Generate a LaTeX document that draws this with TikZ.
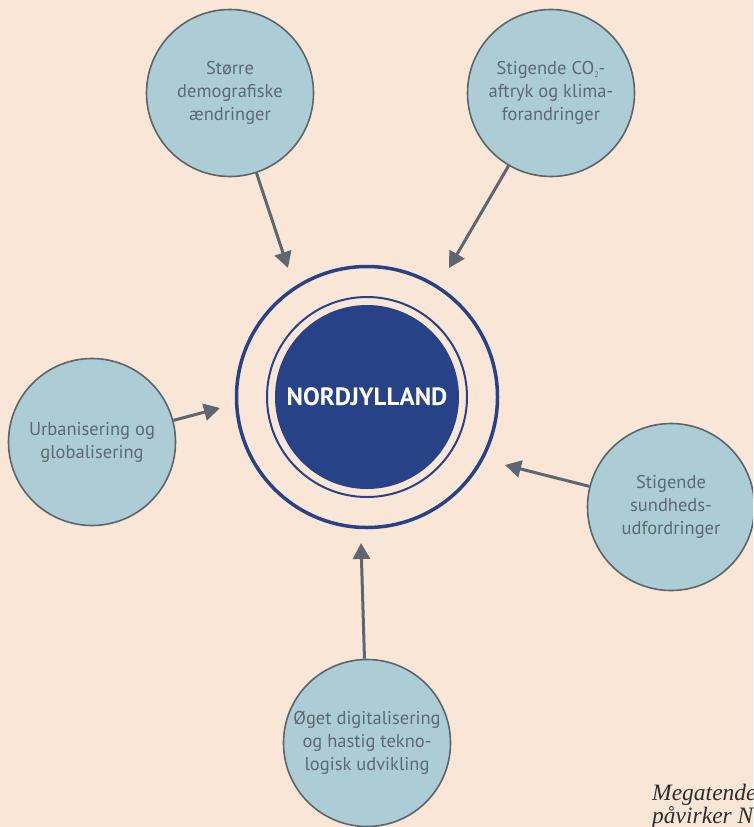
\documentclass[tikz,border=0pt]{standalone}
\usepackage{fontspec}
\setmainfont{PT Sans}
\newfontfamily\capfont{Liberation Serif}
\usetikzlibrary{arrows.meta}

\definecolor{paper}{HTML}{FAE6D6}
\definecolor{trendfill}{HTML}{ACCDD5}
\definecolor{trendline}{HTML}{5C646C}
\definecolor{trendtext}{HTML}{5F6871}
\definecolor{connc}{HTML}{5E666F}
\definecolor{navy}{HTML}{274287}
\definecolor{captext}{HTML}{2E2E2E}

\newcommand{\smallsub}[1]{\raisebox{-2.5pt}{\fontsize{8}{8}\selectfont #1}}

\tikzset{
  trend/.style={circle, draw=trendline, line width=1.6pt, fill=trendfill,
    minimum size=167pt, inner sep=0pt, align=center, text=trendtext,
    font=\fontsize{18.5}{23}\selectfont},
  conn/.style={draw=connc, line width=3pt,
    -{Triangle[length=16pt,width=17pt]}},
  ringline/.style={circle, draw=navy, fill=none, inner sep=0pt},
  captiontext/.style={anchor=base west, inner sep=0pt, text=captext,
    font=\capfont\itshape\fontsize{23.5}{23}\selectfont}
}

\begin{document}
\begin{tikzpicture}[x=1pt, y=-1pt]
  \useasboundingbox (0,0) rectangle (753,827);
  \clip (0,0) rectangle (753,827);
  \fill[paper] (0,0) rectangle (753,827);

  % central region with its two rings
  \node[circle, fill=navy, minimum size=184pt, inner sep=0pt, text=white,
        font=\bfseries\fontsize{25}{28}\selectfont] (hub) at (367,397) {NORDJYLLAND};
  \node[ringline, line width=2pt, minimum size=200pt] (hubin) at (367,397) {};
  \node[ringline, line width=3.5pt, minimum size=261pt] (hubout) at (367,397) {};

  % trends around it
  \node[trend] (demo)  at (230,93)  {Større\\demografiske\\ændringer};
  \node[trend] (climate) at (551,93) {Stigende CO\smallsub{2}-\\aftryk og klima-\\forandringer};
  \node[trend] (urban) at (92,442)  {Urbanisering og\\globalisering};
  \node[trend] (health) at (671,507) {Stigende\\sundheds-\\udfordringer};
  \node[trend] (digital) at (367,743) {Øget digitalisering\\og hastig tekno-\\logisk udvikling};

  % arrow tips pointing at the rings
  \coordinate (tipDemo)    at (288,268);
  \coordinate (tipClimate) at (449,268);
  \coordinate (tipUrban)   at (220,408);
  \coordinate (tipHealth)  at (505,465);
  \coordinate (tipDigital) at (361,543);

  \draw[conn] (demo)    -- (tipDemo);
  \draw[conn] (climate) -- (tipClimate);
  \draw[conn] (urban)   -- (tipUrban);
  \draw[conn] (health)  -- (tipHealth);
  \draw[conn] (digital) -- (tipDigital);

  % caption in the lower right corner
  \node[captiontext] (cap1) at (652,800) {Megatende};
  \node[captiontext] (cap2) at (652,823) {påvirker N};
\end{tikzpicture}
\end{document}
